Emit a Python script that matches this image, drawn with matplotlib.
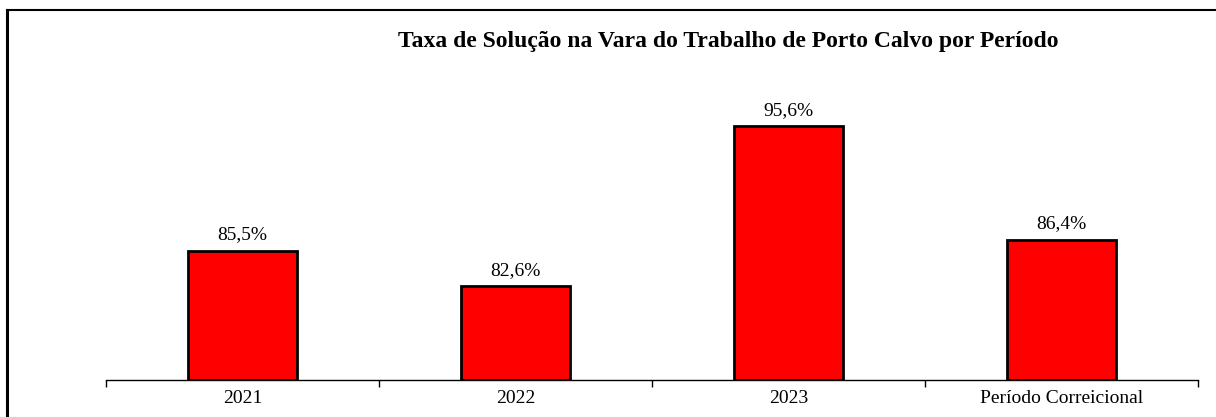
import matplotlib.pyplot as plt
from matplotlib.lines import Line2D

categorias = ["2021", "2022", "2023", "Período Correicional"]
taxas = [85.5, 82.6, 95.6, 86.4]
rotulos = ["85,5%", "82,6%", "95,6%", "86,4%"]

plt.rcParams["font.family"] = ["Liberation Serif", "DejaVu Serif"]

fig = plt.figure(figsize=(12.16, 4.17), dpi=100)
ax = fig.add_axes([106 / 1216, 1 - 380 / 417, (1198 - 106) / 1216, (380 - 72) / 417])

x = range(len(categorias))
ax.bar(x, [t - 75 for t in taxas], bottom=75, width=0.4, color="#ff0000",
       edgecolor="black", linewidth=2)
for xi, t, r in zip(x, taxas, rotulos):
    ax.text(xi, t + 0.6, r, ha="center", va="bottom", fontsize=14)

ax.set_xlim(-0.5, len(categorias) - 0.5)
ax.set_ylim(75, 100)
ax.set_yticks([])
ax.set_xticks(x)
ax.set_xticklabels(categorias, fontsize=14)
ax.set_xticks([i - 0.5 for i in range(len(categorias) + 1)], minor=True)
ax.tick_params(axis="x", which="major", length=0, pad=7)
ax.tick_params(axis="x", which="minor", length=5, width=1, direction="out")
for s in ["top", "right", "left"]:
    ax.spines[s].set_visible(False)
ax.spines["bottom"].set_linewidth(1)

fig.text(728 / 1216, 1 - 42 / 417, "Taxa de Solução na Vara do Trabalho de Porto Calvo por Período",
         ha="center", va="center", fontsize=17, fontweight="bold")

# moldura (borda esquerda e superior)
fig.add_artist(Line2D([7 / 1216, 7 / 1216], [0, 1 - 10 / 417], color="black", linewidth=2.2))
fig.add_artist(Line2D([7 / 1216, 1], [1 - 10 / 417, 1 - 10 / 417], color="black", linewidth=1.5))

fig.savefig("out.png", dpi=100)
